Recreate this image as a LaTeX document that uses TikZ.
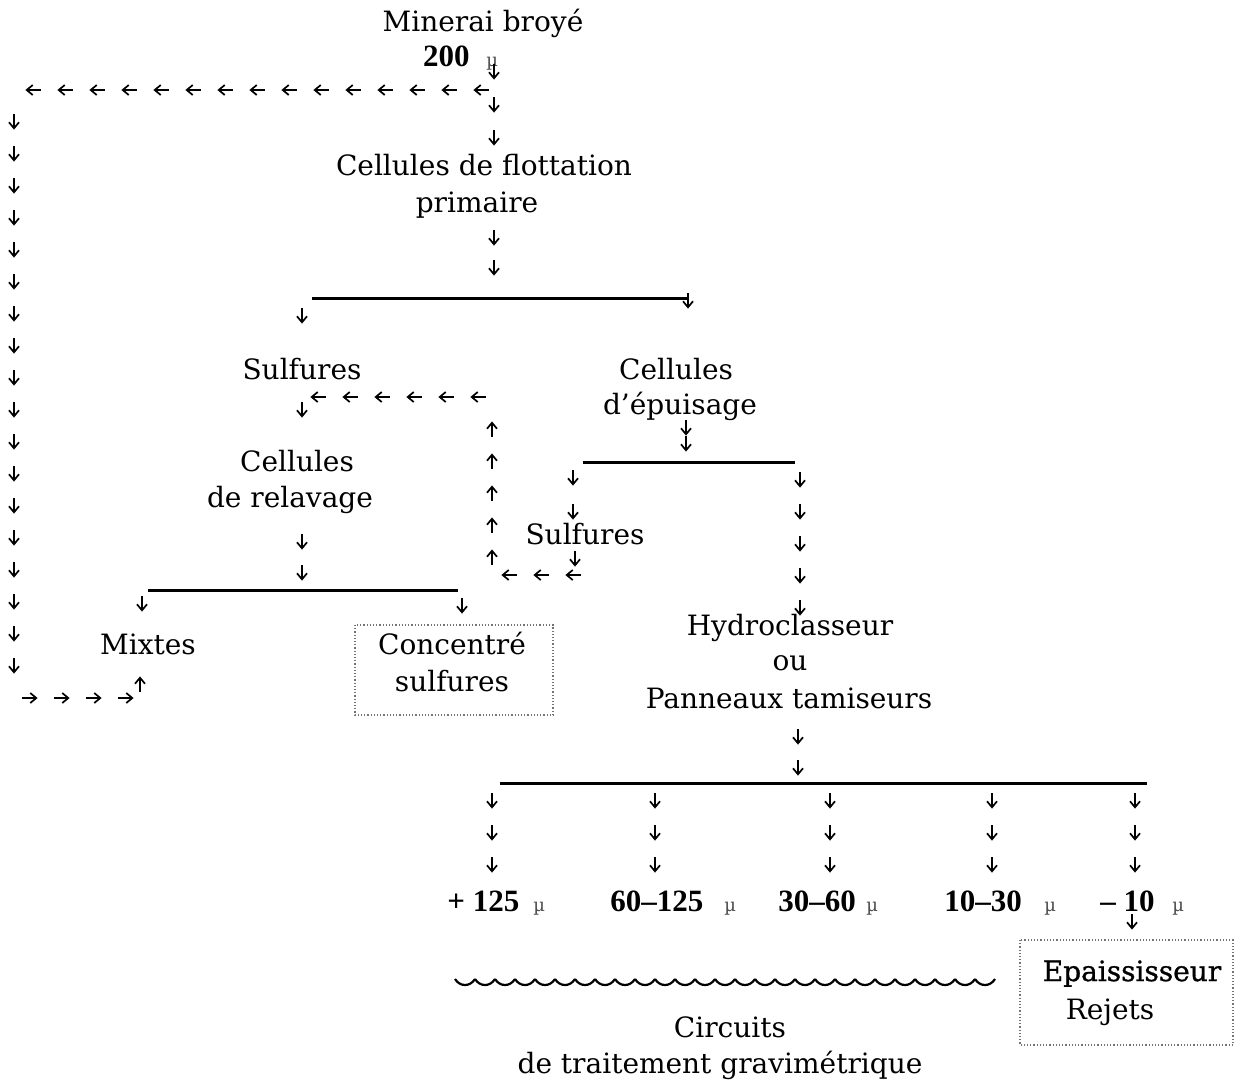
\documentclass[tikz,border=0pt]{standalone}
\usepackage{fontspec}
\setmainfont{DejaVu Serif}
\newfontfamily\numfont{Liberation Serif}
\newfontfamily\heavyfont{DejaVu Serif}[FakeBold=1]
\usetikzlibrary{decorations.markings, arrows.meta}
\begin{document}
\begin{tikzpicture}[x=0.5pt, y=-0.5pt,
  sarrow/.style={line width=0.85pt, -{Straight Barb[length=3pt,width=5pt]}},
  chain/.style={decoration={markings, mark=between positions 0 and 1 step #1 with {\draw[sarrow] (-3.8pt,0) -- (3.8pt,0);}}, decorate},
  chain/.default=16pt,
  lbl/.style={font=\fontsize{14}{16}\selectfont, anchor=base, inner sep=0pt},
  num/.style={font=\fontsize{15.5}{17}\selectfont\numfont\bfseries, anchor=base west, inner sep=0pt},
  mu/.style={font=\fontsize{9}{10}\selectfont, anchor=base west, inner sep=0pt, text=black!70},
  bar/.style={line width=1.5pt},
  dotbox/.style={draw=black!55, densely dotted, line width=0.6pt},
  wavy/.style={line width=1.1pt}
]
\useasboundingbox (0,0) rectangle (1246,1083);

% ---------- texts ----------
\node[lbl] (minerai) at (483,31) {Minerai broyé};
\node[num, anchor=base east] (d200) at (470,66) {200};
\node[mu] (mu0) at (486,66) {µ};
\node[lbl] (flott1) at (484,175) {Cellules de flottation};
\node[lbl] (flott2) at (477,212) {primaire};
\node[lbl] (sulf1) at (302,379) {Sulfures};
\node[lbl] (epu1) at (676,379) {Cellules};
\node[lbl] (epu2) at (680,414) {d'épuisage};
\node[lbl] (rel1) at (297,471) {Cellules};
\node[lbl] (rel2) at (290,507) {de relavage};
\node[lbl] (sulf2) at (585,544) {Sulfures};
\node[lbl] (mixtes) at (148,654) {Mixtes};
\node[lbl] (conc1) at (452,654) {Concentré};
\node[lbl] (conc2) at (452,691) {sulfures};
\node[lbl] (hyd1) at (790,635) {Hydroclasseur};
\node[lbl] (hyd2) at (790,670) {ou};
\node[lbl] (hyd3) at (789,708) {Panneaux tamiseurs};
\node[num] (f1) at (447,911) {+ 125};
\node[mu] (m1) at (533,911) {µ};
\node[num] (f2) at (610,911) {60–125};
\node[mu] (m2) at (724,911) {µ};
\node[num] (f3) at (778,911) {30–60};
\node[mu] (m3) at (866,911) {µ};
\node[num] (f4) at (944,911) {10–30};
\node[mu] (m4) at (1044,911) {µ};
\node[num] (f5) at (1100,911) {– 10};
\node[mu] (m5) at (1172,911) {µ};
\node[lbl, font=\fontsize{14}{16}\selectfont\heavyfont] (epai) at (1132,981) {Epaississeur};
\node[lbl] (rej) at (1110,1019) {Rejets};
\node[lbl] (circ1) at (730,1037) {Circuits};
\node[lbl] (circ2) at (720,1073) {de traitement gravimétrique};

% ---------- boxes ----------
\draw[dotbox] (355,625) rectangle (553,715);
\draw[dotbox] (1020,940) rectangle (1233,1045);

% ---------- coordinates ----------
\coordinate (a1) at (494,72);  \coordinate (a2) at (494,140);
\coordinate (b1) at (494,238); \coordinate (b2) at (494,270);
\coordinate (c1) at (481,90);  \coordinate (c2) at (31,90);
\coordinate (d1) at (14,122);  \coordinate (d2) at (14,667);
\coordinate (e1) at (30,698);  \coordinate (e2) at (128,698);
\coordinate (f1a) at (140,684); \coordinate (f1b) at (140,682);
\coordinate (g1) at (312,298); \coordinate (g2) at (688,298);
\coordinate (g3) at (688,301); \coordinate (g4) at (688,303);
\coordinate (h1) at (302,316); \coordinate (h2) at (302,318);
\coordinate (i1) at (478,397); \coordinate (i2) at (316,397);
\coordinate (i3) at (302,410); \coordinate (i4) at (302,412);
\coordinate (j1) at (492,557); \coordinate (j2) at (492,427);
\coordinate (k1) at (573,575); \coordinate (k2) at (507,575);
\coordinate (l1) at (575,559); \coordinate (l2) at (575,561);
\coordinate (m1a) at (686,428); \coordinate (m1b) at (686,446);
\coordinate (n1) at (583,462); \coordinate (n2) at (795,462);
\coordinate (n3) at (573,478); \coordinate (n4) at (573,514);
\coordinate (n5) at (800,480); \coordinate (n6) at (800,610);
\coordinate (o1) at (302,542); \coordinate (o2) at (302,575);
\coordinate (p1) at (148,590); \coordinate (p2) at (458,590);
\coordinate (p3) at (142,604); \coordinate (p4) at (142,606);
\coordinate (p5) at (462,606); \coordinate (p6) at (462,608);
\coordinate (q1) at (798,737); \coordinate (q2) at (798,770);
\coordinate (q3) at (500,783); \coordinate (q4) at (1147,783);
\coordinate (s1) at (1132,922); \coordinate (s2) at (1132,924);

% ---------- connectors ----------
\path[chain=16.5pt] (a1) -- (a2);
\path[chain=15pt] (b1) -- (b2);
\path[chain] (c1) -- (c2);
\path[chain] (d1) -- (d2);
\path[chain] (e1) -- (e2);
\path[chain] (f1a) -- (f1b);
\draw[bar] (g1) -- (g2);
\path[chain] (g3) -- (g4);
\path[chain] (h1) -- (h2);
\path[chain] (i1) -- (i2);
\path[chain] (i3) -- (i4);
\path[chain] (j1) -- (j2);
\path[chain] (k1) -- (k2);
\path[chain] (l1) -- (l2);
\path[chain=8pt] (m1a) -- (m1b);
\draw[bar] (n1) -- (n2);
\path[chain=17pt] (n3) -- (n4);
\path[chain] (n5) -- (n6);
\path[chain=15.5pt] (o1) -- (o2);
\draw[bar] (p1) -- (p2);
\path[chain] (p3) -- (p4);
\path[chain] (p5) -- (p6);
\path[chain=15.5pt] (q1) -- (q2);
\draw[bar] (q3) -- (q4);
\foreach \x [count=\k] in {492,655,830,992,1135} {
  \coordinate (r\k a) at (\x,801); \coordinate (r\k b) at (\x,867);
  \path[chain] (r\k a) -- (r\k b);
}
\path[chain] (s1) -- (s2);

% ---------- wavy line ----------
\foreach \i in {0,...,26}
  \draw[wavy] (455+20*\i,979) .. controls +(5,8) and +(-5,8) .. ++(20,0);
\end{tikzpicture}
\end{document}
